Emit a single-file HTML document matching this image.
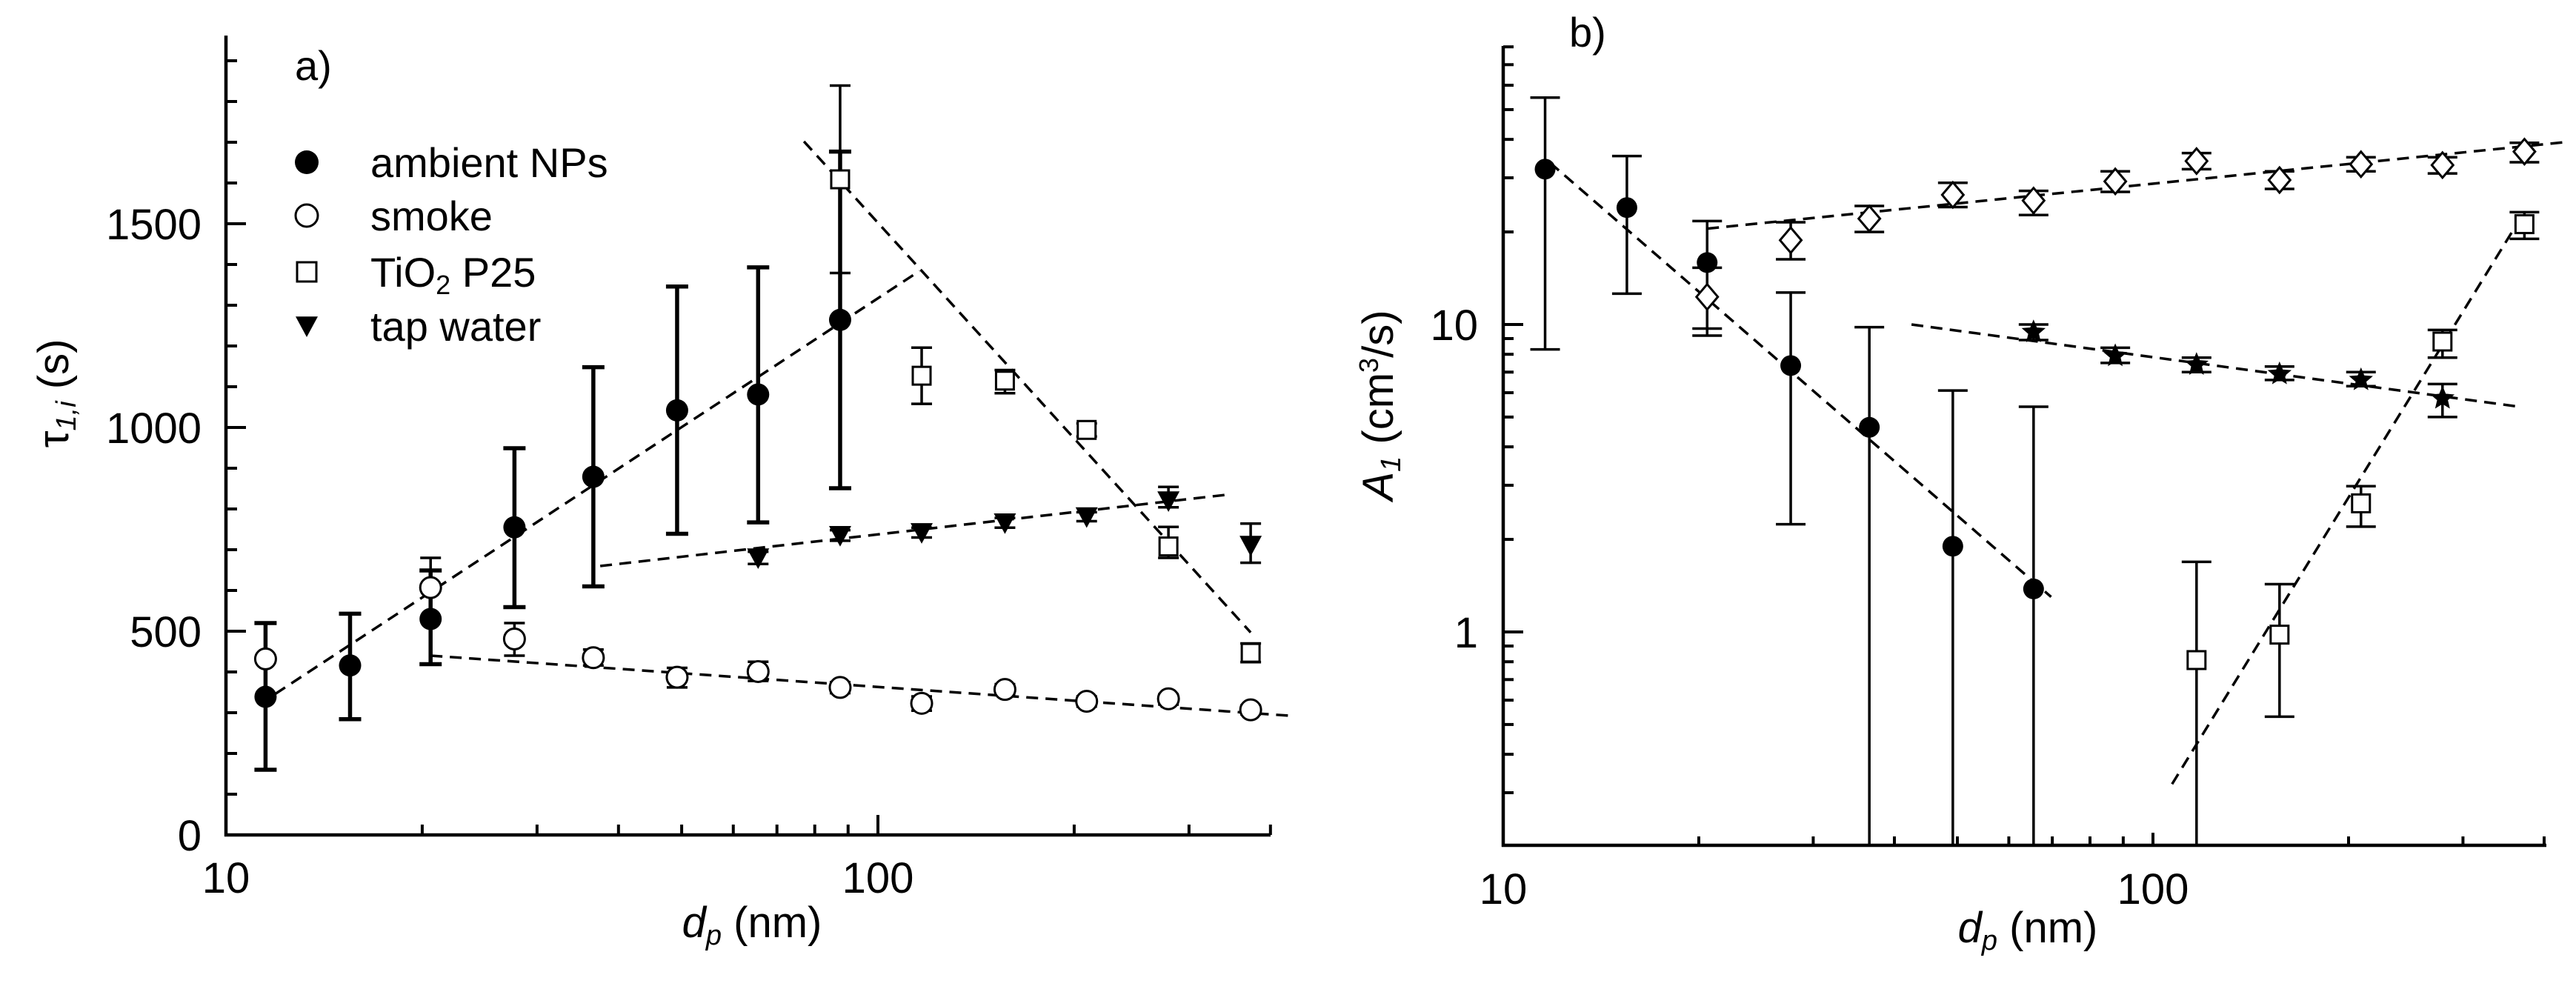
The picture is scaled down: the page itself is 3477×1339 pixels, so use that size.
<!DOCTYPE html>
<html><head><meta charset="utf-8"><style>
html,body{margin:0;padding:0;background:#fff;}
svg{display:block;font-family:"Liberation Sans",Arial,sans-serif;}
</style></head><body>
<svg id="fig" xmlns="http://www.w3.org/2000/svg" width="3477" height="1339" viewBox="0 0 3477 1339">
<rect x="0" y="0" width="3477" height="1339" fill="#fff"/>
<g id="pa"></g>
<g id="pb"></g>
</svg>
<script>
// ---------- Panel a data ----------
const xCat = [11.5,15.5,20.6,27.7,36.6,49.2,65.5,87.5,116.7,156.6,209,279,373];
const aAmbX = [11.5,15.5,20.6,27.7,36.6,49.2,65.5,87.5];
const aAmbY = [339,416,530,755,879,1042,1081,1264];
const aAmbLo = [160,284,419,559,610,739,767,851];
const aAmbHi = [520,543,649,949,1148,1346,1393,1677];
const aSmkX = [11.5,20.6,27.7,36.6,49.2,65.5,87.5,116.7,156.6,209,279,373];
const aSmkY = [432,607,481,435,387,401,362,323,357,328,334,307];
const aSmkLo = [432,535,440,416,362,378,348,305,343,315,320,296];
const aSmkHi = [432,680,520,455,410,425,375,340,370,340,345,318];
const aTioX = [87.5,116.7,156.6,209,279,373];
const aTioY = [1609,1127,1115,994,708,447];
const aTioLo = [1379,1058,1084,978,680,424];
const aTioHi = [1839,1196,1141,1010,756,470];
const aTapX = [65.5,87.5,116.7,156.6,209,279,373];
const aTapY = [680,735,742,766,781,820,711];
const aTapLo = [665,722,730,754,770,804,668];
const aTapHi = [695,748,754,778,792,854,764];
const aFitAmb = [[11.9,346],[115.8,1384]];
const aFitSmk = [[20.6,440],[433,292]];
const aFitTio = [[77,1702],[373,497]];
const aFitTap = [[37.5,660],[343,835]];
const aYTicks = [0,500,1000,1500];
const aXTicks = [10,100];
// ---------- Panel b data ----------
const bAmbX = [11.6,15.5,20.6,27.7,36.6,49.2,65.5];
const bAmbY = [32,24,15.9,7.35,4.63,1.9,1.38];
const bAmbLo = [8.3,12.6,9.7,2.24,0.2,0.2,0.2];
const bAmbHi = [54.7,35.3,21.7,12.7,9.8,6.1,5.4];
const bDiaX = [20.6,27.7,36.6,49.2,65.5,87.5,116.7,156.6,209,279,373];
const bDiaY = [12.3,18.8,22.1,26.4,25.3,29.2,34,29.5,33.2,33,36.5];
const bDiaLo = [9.2,16.3,20,24.1,22.7,27,32,27.6,31.5,31,33.7];
const bDiaHi = [15.3,21.5,24.3,28.9,27.2,31.5,36.1,31.5,35,35,39];
const bStarX = [65.5,87.5,116.7,156.6,209,279];
const bStarY = [9.45,7.9,7.4,6.9,6.6,5.75];
const bStarLo = [8.9,7.5,7.0,6.6,6.3,5.0];
const bStarHi = [10,8.4,7.8,7.3,7.0,6.4];
const bSqX = [116.7,156.6,209,279,373];
const bSqY = [0.81,0.98,2.62,8.8,21.2];
const bSqLo = [0.2,0.53,2.2,7.8,19.0];
const bSqHi = [1.69,1.43,2.98,9.6,23.2];
const bFitAmb = [[11.8,33.6],[69.7,1.30]];
const bFitDia = [[20.6,20.5],[437,39.3]];
const bFitStar = [[42.5,10],[362,5.42]];
const bFitSq = [[107,0.32],[368,22.2]];
const bYTicks = [1,10];
const bXTicks = [10,100];

const NS='http://www.w3.org/2000/svg';
function mk(parent, tag, attrs, name){
  const el=document.createElementNS(NS,tag);
  for(const k in attrs) el.setAttribute(k,attrs[k]);
  
  
  parent.appendChild(el);
  return el;
}
// axis functions
const axA={x0:305,dec:880,y0:1127,k:0.55};
function ax(v){return axA.x0+Math.log10(v/10)*axA.dec;}
function ay(v){return axA.y0-v*axA.k;}
const axB={x0:2029,dec:877,y10:438,ydec:415};
function bx(v){return axB.x0+Math.log10(v/10)*axB.dec;}
function by(v){return axB.y10-Math.log10(v/10)*axB.ydec;}

function marker(g,type,x,y,r,name){
  if(type==='fc') return mk(g,'circle',{cx:x,cy:y,r:r,fill:'#000'},name);
  if(type==='oc') return mk(g,'circle',{cx:x,cy:y,r:r,fill:'#fff',stroke:'#000','stroke-width':3},name);
  if(type==='sq') return mk(g,'rect',{x:x-r,y:y-r,width:2*r,height:2*r,fill:'#fff',stroke:'#000','stroke-width':3},name);
  if(type==='tri') return mk(g,'polygon',{points:`${x-r},${y-r*0.85} ${x+r},${y-r*0.85} ${x},${y+r}`,fill:'#000'},name);
  if(type==='dia') return mk(g,'polygon',{points:`${x},${y-r} ${x+r*0.85},${y} ${x},${y+r} ${x-r*0.85},${y}`,fill:'#fff',stroke:'#000','stroke-width':3},name);
  if(type==='star'){let p=[];for(let i=0;i<10;i++){const a=-Math.PI/2+i*Math.PI/5;const rr=i%2?r*0.45:r;p.push((x+rr*Math.cos(a)).toFixed(1)+','+(y+rr*Math.sin(a)).toFixed(1));}
    return mk(g,'polygon',{points:p.join(' '),fill:'#000'},name);}
}
function errbar(g,x,ylo,yhi,cap,w,name){
  const gg=mk(g,'g',{stroke:'#000','stroke-width':w,fill:'none'},name);
  mk(gg,'line',{x1:x,y1:ylo,x2:x,y2:yhi},'error-stem');
  mk(gg,'line',{x1:x-cap,y1:yhi,x2:x+cap,y2:yhi},'error-cap-top');
  mk(gg,'line',{x1:x-cap,y1:ylo,x2:x+cap,y2:ylo},'error-cap-bottom');
}
function series(g,X,Y,LO,HI,fx,fy,type,r,w,cap,name,clipLo){
  const sg=mk(g,'g',{},name);
  for(let i=0;i<X.length;i++){
    let lo=fy(LO[i]); if(clipLo!==undefined) lo=Math.min(lo,clipLo);
    if(HI[i]!==LO[i]) errbar(sg,fx(X[i]),lo,fy(HI[i]),cap,w,name+'-error');
  }
  for(let i=0;i<X.length;i++) marker(sg,type,fx(X[i]),fy(Y[i]),r,name+'-point');
}
function fit(g,P,fx,fy,name){
  mk(g,'line',{x1:fx(P[0][0]),y1:fy(P[0][1]),x2:fx(P[1][0]),y2:fy(P[1][1]),stroke:'#000','stroke-width':3.5,'stroke-dasharray':'16 10'},name);
}
function text(g,x,y,s,size,anchor,name,extra){
  const t=mk(g,'text',Object.assign({x:x,y:y,'font-size':size,'text-anchor':anchor||'start',fill:'#000'},extra||{}),name);
  t.innerHTML=s; return t;
}

// ---------- Panel a ----------
const pa=document.getElementById('pa');
mk(pa,'line',{x1:305,y1:48,x2:305,y2:1129,stroke:'#000','stroke-width':4.5},'y-axis-a');
mk(pa,'line',{x1:303,y1:1127,x2:1715,y2:1127,stroke:'#000','stroke-width':4.5},'x-axis-a');
for(let v=100;v<=1900;v+=100){ if(v%500) mk(pa,'line',{x1:305,y1:ay(v),x2:320,y2:ay(v),stroke:'#000','stroke-width':4},'y-minor-tick-a'); }
aYTicks.forEach(v=>{ if(v>0) mk(pa,'line',{x1:305,y1:ay(v),x2:332,y2:ay(v),stroke:'#000','stroke-width':4},'y-major-tick-a');
  text(pa,272,ay(v)+21,String(v),58,'end','y-tick-label-a');});
[20,30,40,50,60,70,80,90,200,300,400].forEach(v=>mk(pa,'line',{x1:ax(v),y1:1127,x2:ax(v),y2:1113,stroke:'#000','stroke-width':4},'x-minor-tick-a'));
aXTicks.forEach(v=>{mk(pa,'line',{x1:ax(v),y1:1127,x2:ax(v),y2:1100,stroke:'#000','stroke-width':4},'x-major-tick-a');
  text(pa,ax(v),1205,String(v),58,'middle','x-tick-label-a');});
text(pa,1015,1265,'<tspan font-style="italic">d</tspan><tspan font-style="italic" font-size="38" dy="10">p</tspan><tspan dy="-10"> (nm)</tspan>',58,'middle','x-axis-title-a');
text(pa,0,0,'τ<tspan font-style="italic" font-size="38" dy="10">1,i</tspan><tspan dy="-10"> (s)</tspan>',58,'middle','y-axis-title-a',{transform:'translate(92,531) rotate(-90)'});
text(pa,398,108,'a)',56,'start','panel-label-a');
fit(pa,aFitAmb,ax,ay,'fit-line-ambient');
fit(pa,aFitSmk,ax,ay,'fit-line-smoke');
fit(pa,aFitTio,ax,ay,'fit-line-tio2');
fit(pa,aFitTap,ax,ay,'fit-line-tap-water');
series(pa,aAmbX,aAmbY,aAmbLo,aAmbHi,ax,ay,'fc',15,5.5,15,'series-ambient');
series(pa,aSmkX,aSmkY,aSmkLo,aSmkHi,ax,ay,'oc',14,3.5,14,'series-smoke');
series(pa,aTioX,aTioY,aTioLo,aTioHi,ax,ay,'sq',12,3.5,14,'series-tio2');
series(pa,aTapX,aTapY,aTapLo,aTapHi,ax,ay,'tri',15,3.5,14,'series-tap-water');
// legend
const lg=mk(pa,'g',{},'legend-a');
const legNames=['ambient NPs','smoke','TiO<tspan font-size="36" dy="10">2</tspan><tspan dy="-10"> P25</tspan>','tap water'];
const legTypes=['fc','oc','sq','tri'];
const legY=[219,291,367,440];
for(let i=0;i<4;i++){ marker(lg,legTypes[i],414,legY[i],legTypes[i]==='fc'?16:(legTypes[i]==='sq'?13:15),'legend-marker');
  text(lg,500,legY[i]+20,legNames[i],56,'start','legend-entry');}

// ---------- Panel b ----------
const pb=document.getElementById('pb');
mk(pb,'line',{x1:2029,y1:62,x2:2029,y2:1143,stroke:'#000','stroke-width':4.5},'y-axis-b');
mk(pb,'line',{x1:2027,y1:1141,x2:3437,y2:1141,stroke:'#000','stroke-width':4.5},'x-axis-b');
[0.2,0.3,0.4,0.5,0.6,0.7,0.8,0.9,2,3,4,5,6,7,8,9,20,30,40,50,60,70,80].forEach(v=>{ if(v>0.2) mk(pb,'line',{x1:2029,y1:by(v),x2:2043,y2:by(v),stroke:'#000','stroke-width':4},'y-minor-tick-b');});
bYTicks.forEach(v=>{mk(pb,'line',{x1:2029,y1:by(v),x2:2056,y2:by(v),stroke:'#000','stroke-width':4},'y-major-tick-b');
  text(pb,1995,by(v)+21,String(v),58,'end','y-tick-label-b');});
[20,30,40,50,60,70,80,90,200,300,400].forEach(v=>mk(pb,'line',{x1:bx(v),y1:1141,x2:bx(v),y2:1129,stroke:'#000','stroke-width':4},'x-minor-tick-b'));
bXTicks.forEach(v=>{mk(pb,'line',{x1:bx(v),y1:1141,x2:bx(v),y2:1124,stroke:'#000','stroke-width':4},'x-major-tick-b');
  text(pb,bx(v),1220,String(v),58,'middle','x-tick-label-b');});
text(pb,2737,1272,'<tspan font-style="italic">d</tspan><tspan font-style="italic" font-size="38" dy="10">p</tspan><tspan dy="-10"> (nm)</tspan>',58,'middle','x-axis-title-b');
text(pb,0,0,'<tspan font-style="italic">A</tspan><tspan font-style="italic" font-size="38" dy="10">1</tspan><tspan dy="-10"> (cm</tspan><tspan font-size="36" dy="-20">3</tspan><tspan dy="20">/s)</tspan>',58,'middle','y-axis-title-b',{transform:'translate(1880,547) rotate(-90)'});
text(pb,2118,63,'b)',56,'start','panel-label-b');
fit(pb,bFitAmb,bx,by,'fit-line-ambient-b');
fit(pb,bFitDia,bx,by,'fit-line-smoke-b');
fit(pb,bFitStar,bx,by,'fit-line-tap-water-b');
fit(pb,bFitSq,bx,by,'fit-line-tio2-b');
series(pb,bAmbX,bAmbY,bAmbLo,bAmbHi,bx,by,'fc',14,3.5,20,'series-ambient-b',1141);
series(pb,bDiaX,bDiaY,bDiaLo,bDiaHi,bx,by,'dia',17,3.5,20,'series-smoke-b');
series(pb,bStarX,bStarY,bStarLo,bStarHi,bx,by,'star',17,3.5,20,'series-tap-water-b');
series(pb,bSqX,bSqY,bSqLo,bSqHi,bx,by,'sq',12,3.5,20,'series-tio2-b',1141);
</script>
</body></html>
